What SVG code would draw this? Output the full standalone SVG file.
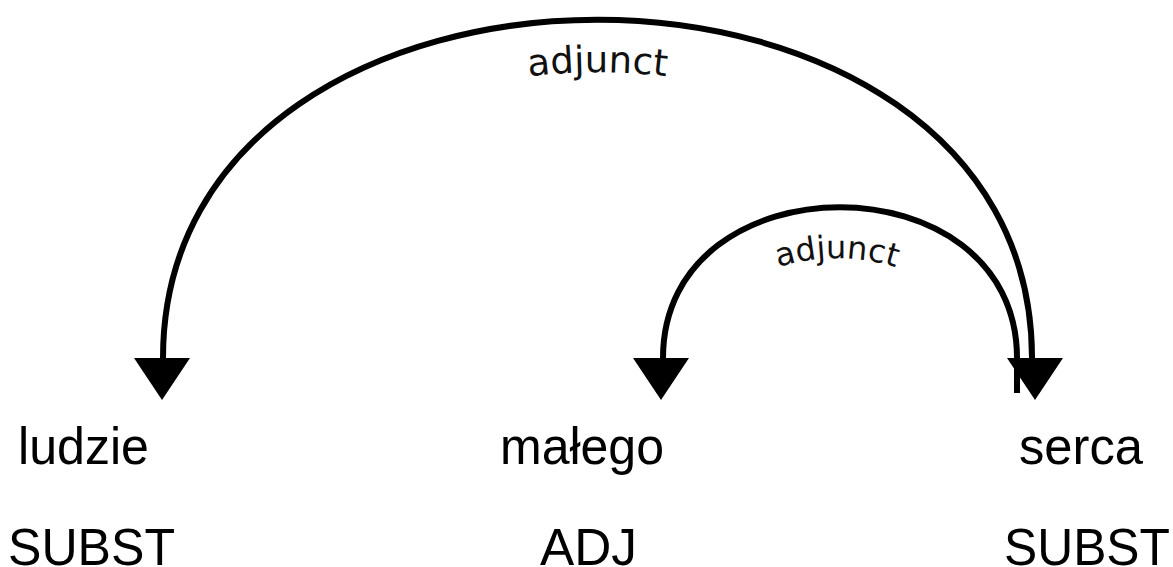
<svg xmlns="http://www.w3.org/2000/svg" width="1173" height="567" viewBox="0 0 1173 567">
<style>
.arc{fill:none;stroke:#000;stroke-width:6}
.head{fill:#000}
.word{font-family:"Liberation Sans",Arial,sans-serif;font-size:52px;fill:#000}
.lbl{font-family:"DejaVu Sans","Liberation Sans",sans-serif;fill:#111}
</style>
<defs>
<path id="tp1" d="M 213 358 C 213 -23, 982 -23, 982 358"/>
<path id="tp2" d="M 702 358 C 702 225, 972 225, 972 358"/>
</defs>
<rect width="1173" height="567" fill="#fff"/>
<g id="connectors">
<path class="arc" d="M 1032 380 L 1032 358 C 1032 -93, 163 -93, 163 358"/>
<path class="arc" d="M 1017 393 L 1017 358 C 1017 157, 663 157, 663 358"/>
<polygon class="head" points="134,358 190,358 162,400"/>
<polygon class="head" points="633,358 689,358 661,400"/>
<polygon class="head" points="1007,358 1063,358 1035,400"/>
<text class="lbl" font-size="37"><textPath href="#tp1" startOffset="50%" text-anchor="middle">adjunct</textPath></text>
<text class="lbl" font-size="32"><textPath href="#tp2" startOffset="50%" text-anchor="middle">adjunct</textPath></text>
</g>
<g id="node-ludzie">
<text class="word" x="18" y="464" textLength="131" lengthAdjust="spacingAndGlyphs">ludzie</text>
<text class="word" x="8" y="565" textLength="167" lengthAdjust="spacingAndGlyphs">SUBST</text>
</g>
<g id="node-malego">
<text class="word" x="500" y="464" textLength="164" lengthAdjust="spacingAndGlyphs">małego</text>
<text class="word" x="540" y="565" textLength="97" lengthAdjust="spacingAndGlyphs">ADJ</text>
</g>
<g id="node-serca">
<text class="word" x="1019" y="464" textLength="124" lengthAdjust="spacingAndGlyphs">serca</text>
<text class="word" x="1004" y="565" textLength="166" lengthAdjust="spacingAndGlyphs">SUBST</text>
</g>
</svg>
